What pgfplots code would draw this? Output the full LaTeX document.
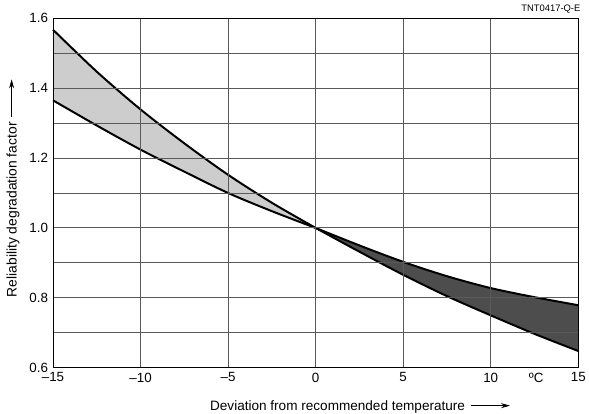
\documentclass[border=0pt]{standalone}
\usepackage{fontspec}
\setmainfont{Liberation Sans}
\usepackage{pgfplots}
\pgfplotsset{compat=1.18}
\usepgfplotslibrary{fillbetween}
\usetikzlibrary{arrows.meta}

\definecolor{lightfill}{HTML}{CDCDCD}
\definecolor{darkfill}{HTML}{4D4D4D}
\definecolor{gridgray}{HTML}{5A5A5A}

\begin{document}
\begin{tikzpicture}
\begin{axis}[
    scale only axis,
    width=528.4bp, height=351.7bp,
    xmin=-15, xmax=15, ymin=0.6, ymax=1.6,
    xtick={-15,-10,-5,0,5,10,15},
    xticklabels={–15,–10,–5,0,5,10,15},
    ytick={0.6,0.8,1.0,1.2,1.4,1.6},
    minor ytick={0.7,0.9,1.1,1.3,1.5},
    yticklabel style={/pgf/number format/fixed,/pgf/number format/fixed zerofill,/pgf/number format/precision=1, xshift=-1.5bp},
    xticklabel style={yshift=-1.5bp},
    /pgf/number format/assume math mode=true,
    extra x ticks={12.6},
    extra x tick labels={ºC},
    extra x tick style={grid=none},
    tick label style={font=\fontsize{13.5}{15}\selectfont},
    major tick length=0pt, minor tick length=0pt,
    grid=both,
    major grid style={gridgray, line width=0.9pt},
    minor grid style={gridgray, line width=0.9pt},
    axis line style={black, line width=1pt},
    axis on top,
    clip=false,
]
% left half: steep and shallow curves
\addplot[name path=sl, draw=none, smooth] coordinates {
  (-15,1.567) (-12.5,1.447) (-10,1.339) (-7.5,1.242) (-5,1.152) (-2.5,1.072) (0,1.000)
};
\addplot[name path=hl, draw=none, smooth] coordinates {
  (-15,1.365) (-12.5,1.293) (-10,1.224) (-7.5,1.161) (-5,1.100) (-2.5,1.048) (0,1.000)
};
% right half
\addplot[name path=sr, draw=none, smooth] coordinates {
  (0,1.000) (2.5,0.932) (5,0.866) (7.5,0.805) (10,0.750) (12.5,0.697) (15,0.648)
};
\addplot[name path=hr, draw=none, smooth] coordinates {
  (0,1.000) (2.5,0.950) (5,0.903) (7.5,0.862) (10,0.828) (12.5,0.802) (15,0.779)
};
\addplot[lightfill] fill between[of=sl and hl];
\addplot[darkfill] fill between[of=sr and hr];
% outlines
\addplot[black, line width=2pt, smooth] coordinates {
  (-15,1.567) (-12.5,1.447) (-10,1.339) (-7.5,1.242) (-5,1.152) (-2.5,1.072) (0,1.000)
};
\addplot[black, line width=2pt, smooth] coordinates {
  (-15,1.365) (-12.5,1.293) (-10,1.224) (-7.5,1.161) (-5,1.100) (-2.5,1.048) (0,1.000)
};
\addplot[black, line width=2pt, smooth] coordinates {
  (0,1.000) (2.5,0.932) (5,0.866) (7.5,0.805) (10,0.750) (12.5,0.697) (15,0.648)
};
\addplot[black, line width=2pt, smooth] coordinates {
  (0,1.000) (2.5,0.950) (5,0.903) (7.5,0.862) (10,0.828) (12.5,0.802) (15,0.779)
};
\draw[black, line width=1.2pt] (rel axis cs:1,0) -- (rel axis cs:1,1);

\node[anchor=base west, font=\fontsize{13.7}{15}\selectfont, inner sep=0pt] (xl)
  at (axis description cs:0.2988,-0.1225) {Deviation from recommended temperature};
\node[rotate=90, anchor=base, font=\fontsize{14}{16}\selectfont, inner sep=0pt] (yl)
  at (axis description cs:-0.0693,0.452) {Reliability degradation factor};
\node[anchor=base east, font=\fontsize{9.5}{11}\selectfont, inner sep=0pt]
  at (axis description cs:1.0044,1.018) {TNT0417-Q-E};

\path (rel axis cs:-0.1009,-0.1308) rectangle (rel axis cs:1.0138,1.052);
\end{axis}
\draw[line width=0.8pt,-{Stealth[length=9bp,width=5bp]}] ([xshift=6bp,yshift=5bp]xl.base east) -- ++(39bp,0);
\draw[line width=0.8pt,-{Stealth[length=9bp,width=5bp]}] ([xshift=-5bp,yshift=5bp]yl.base east) -- ++(0,38bp);
\end{tikzpicture}
\end{document}
